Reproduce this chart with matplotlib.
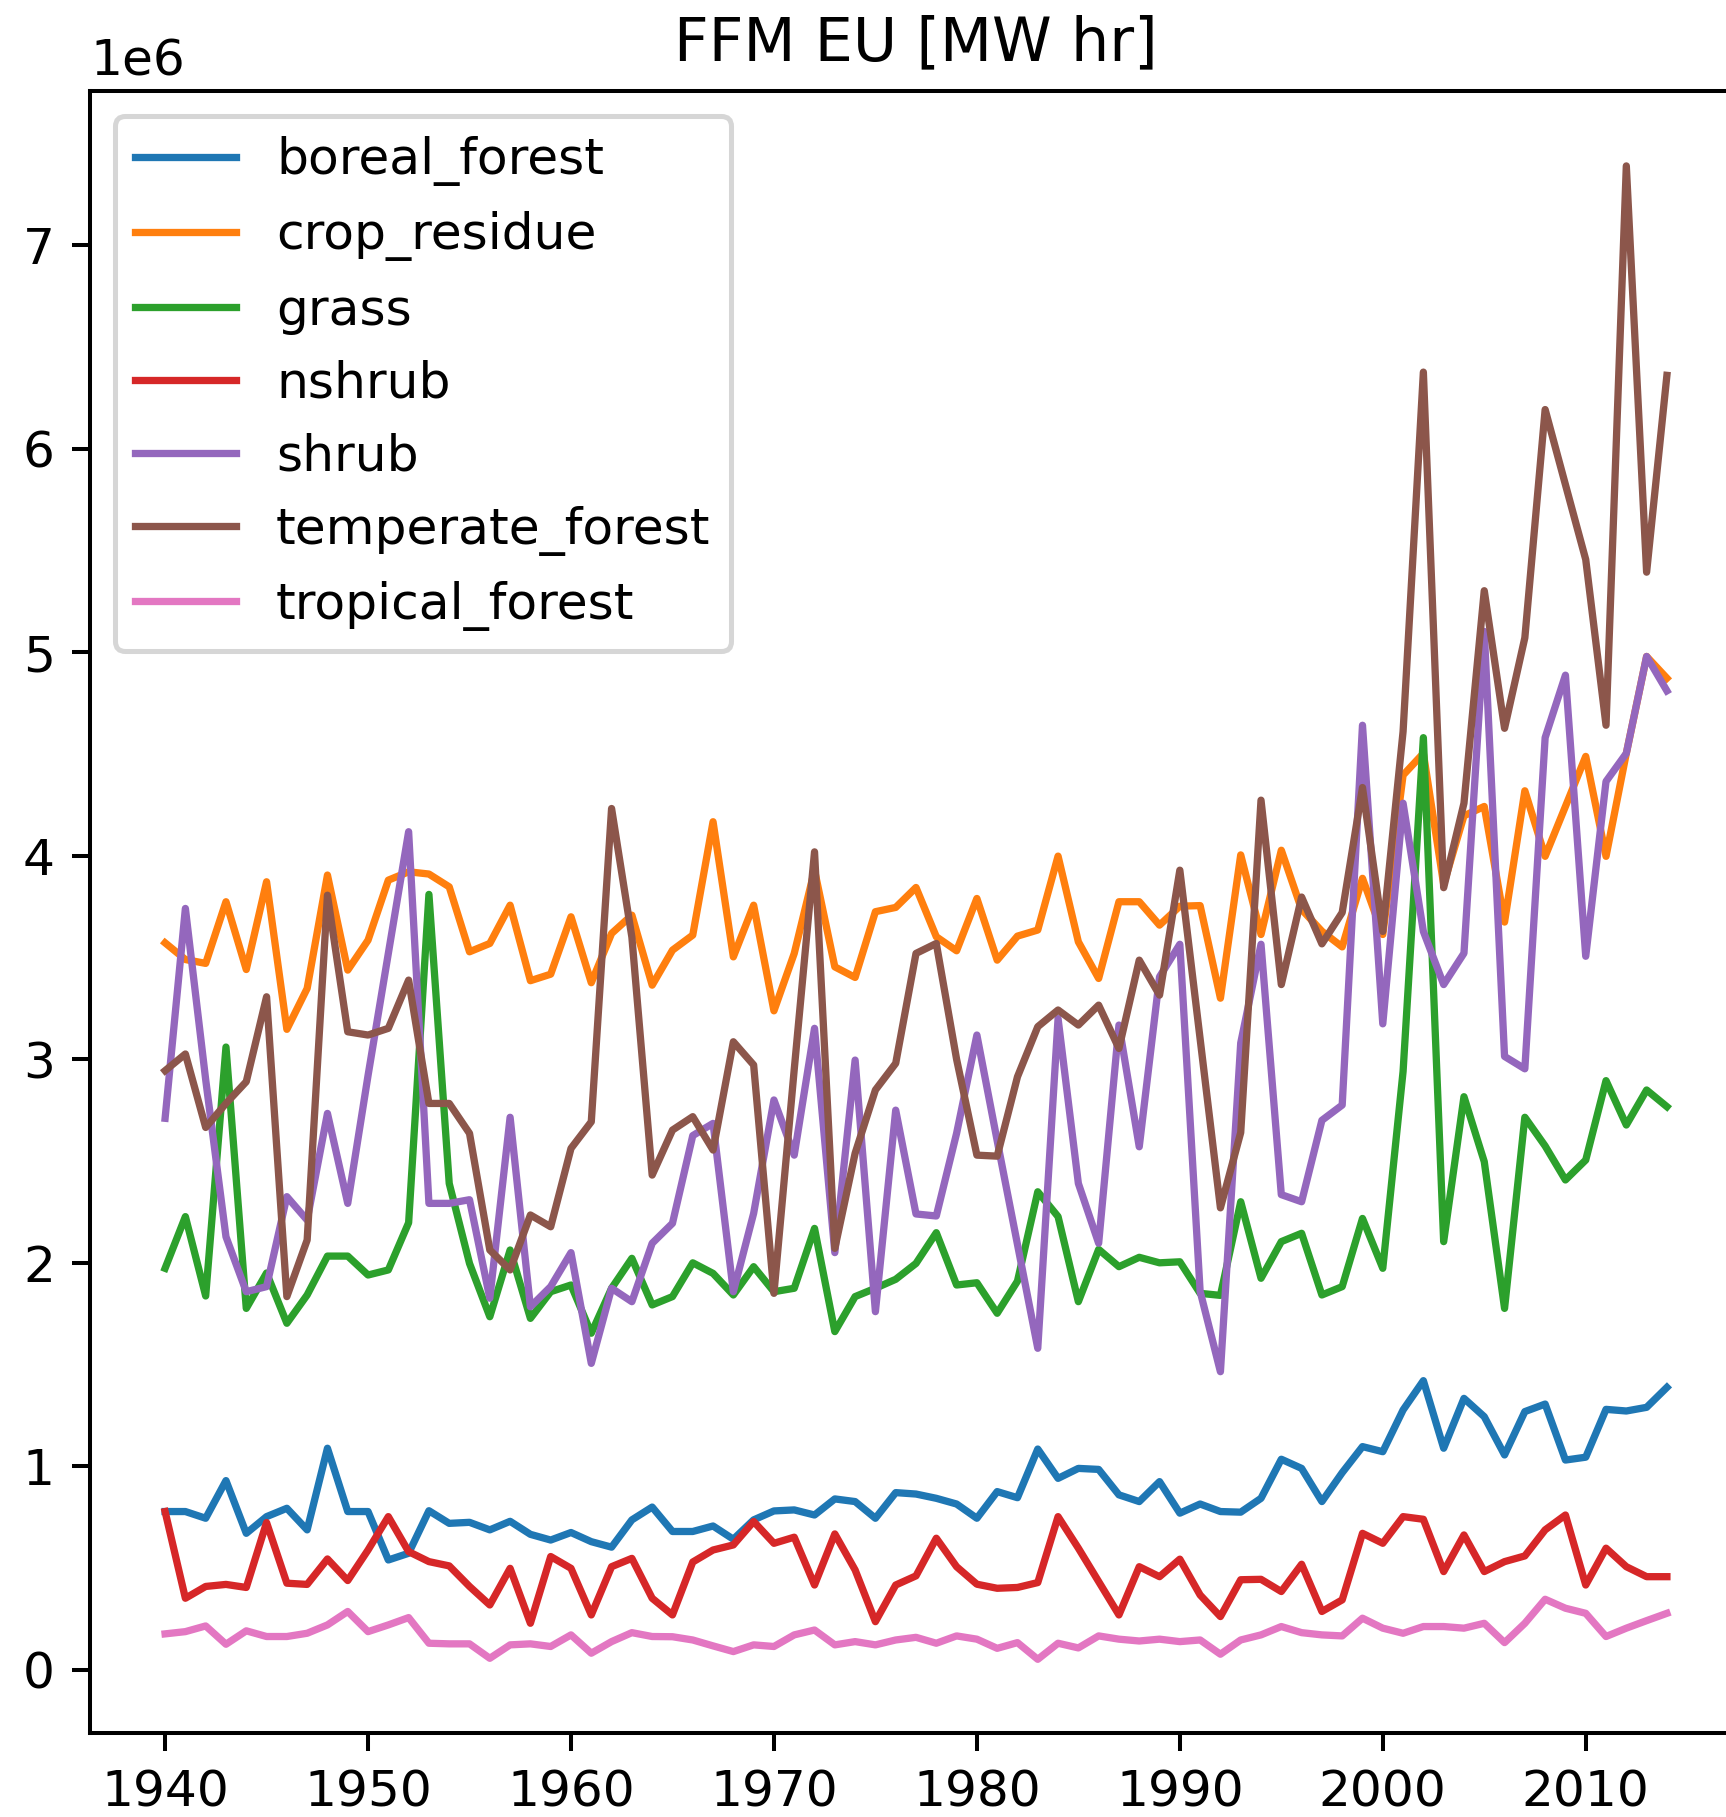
import numpy as np
import matplotlib
matplotlib.use("Agg")
import matplotlib.pyplot as plt

years = np.arange(1940, 2015)

boreal_forest = [
    0.778, 0.778, 0.745, 0.93, 0.671, 0.753, 0.794, 0.688, 1.089, 0.778, 0.778, 0.540, 0.573, 0.782,
    0.72, 0.725, 0.688, 0.73, 0.666, 0.638, 0.675, 0.63, 0.603, 0.737, 0.80, 0.68, 0.68,
    0.707, 0.642, 0.737, 0.781, 0.786, 0.761, 0.84, 0.827, 0.745, 0.871, 0.864, 0.843, 0.815,
    0.745, 0.876, 0.846, 1.085, 0.941, 0.99, 0.985, 0.86, 0.827, 0.925, 0.77, 0.815, 0.778,
    0.775, 0.843, 1.035, 0.99, 0.827, 0.969, 1.097, 1.072, 1.277, 1.421, 1.089, 1.334, 1.244,
    1.056, 1.269, 1.306, 1.031, 1.045, 1.28, 1.272, 1.29, 1.388,
]
crop_residue = [
    3.572, 3.49, 3.471, 3.774, 3.441, 3.872, 3.147, 3.348, 3.905, 3.438, 3.585, 3.88, 3.921, 3.91,
    3.847, 3.528, 3.569, 3.757, 3.386, 3.418, 3.70, 3.376, 3.618, 3.708, 3.364, 3.536, 3.61,
    4.167, 3.503, 3.757, 3.238, 3.52, 3.929, 3.454, 3.402, 3.725, 3.746, 3.844, 3.602, 3.533,
    3.79, 3.487, 3.605, 3.635, 3.998, 3.577, 3.397, 3.774, 3.774, 3.659, 3.752, 3.755, 3.30,
    4.004, 3.613, 4.027, 3.736, 3.629, 3.552, 3.889, 3.613, 4.396, 4.503, 3.859, 4.196, 4.242,
    3.674, 4.319, 3.997, 4.242, 4.488, 3.997, 4.503, 4.979, 4.872,
]
grass = [
    1.973, 2.227, 1.837, 3.06, 1.776, 1.95, 1.703, 1.842, 2.033, 2.033, 1.94, 1.965, 2.197, 3.81,
    2.39, 1.997, 1.735, 2.063, 1.727, 1.858, 1.891, 1.654, 1.875, 2.022, 1.793, 1.834, 2.0,
    1.948, 1.842, 1.981, 1.858, 1.875, 2.169, 1.662, 1.834, 1.875, 1.919, 1.997, 2.148, 1.891,
    1.902, 1.752, 1.91, 2.349, 2.227, 1.809, 2.066, 1.981, 2.027, 2.0, 2.005, 1.85, 1.84,
    2.3, 1.924, 2.104, 2.145, 1.842, 1.883, 2.218, 1.973, 2.94, 4.58, 2.104, 2.816, 2.497,
    1.776, 2.715, 2.574, 2.407, 2.505, 2.895, 2.677, 2.849, 2.767,
]
nshrub = [
    0.778, 0.352, 0.41, 0.42, 0.405, 0.724, 0.426, 0.42, 0.545, 0.439, 0.589, 0.753, 0.581, 0.532,
    0.511, 0.41, 0.319, 0.499, 0.229, 0.557, 0.499, 0.27, 0.507, 0.548, 0.352, 0.27, 0.53,
    0.589, 0.614, 0.729, 0.622, 0.652, 0.417, 0.668, 0.491, 0.237, 0.417, 0.462, 0.647, 0.507,
    0.421, 0.401, 0.405, 0.429, 0.753, 0.598, 0.434, 0.27, 0.507, 0.458, 0.544, 0.368, 0.262,
    0.443, 0.445, 0.385, 0.519, 0.287, 0.344, 0.671, 0.622, 0.753, 0.74, 0.483, 0.663, 0.483,
    0.532, 0.56, 0.688, 0.761, 0.417, 0.598, 0.507, 0.458, 0.458,
]
shrub = [
    2.71, 3.741, 2.9, 2.128, 1.858, 1.883, 2.325, 2.21, 2.734, 2.292, 2.92, 3.52, 4.118, 2.292,
    2.292, 2.31, 1.826, 2.715, 1.784, 1.883, 2.05, 1.506, 1.875, 1.809, 2.096, 2.194, 2.625,
    2.685, 1.858, 2.243, 2.8, 2.529, 3.152, 2.05, 2.996, 1.76, 2.75, 2.24, 2.23, 2.636,
    3.119, 2.6, 2.09, 1.58, 3.2, 2.39, 2.096, 3.168, 2.57, 3.405, 3.565, 1.86, 1.465,
    3.08, 3.565, 2.335, 2.30, 2.70, 2.775, 4.641, 3.174, 4.258, 3.628, 3.367, 3.521, 5.102,
    3.014, 2.953, 4.58, 4.887, 3.506, 4.365, 4.503, 4.979, 4.81,
]
temperate_forest = [
    2.944, 3.026, 2.665, 2.783, 2.89, 3.307, 1.834, 2.112, 3.806, 3.135, 3.119, 3.152, 3.389, 2.783,
    2.783, 2.636, 2.063, 1.965, 2.235, 2.177, 2.562, 2.693, 4.232, 3.6, 2.431, 2.652, 2.718,
    2.554, 3.086, 2.972, 1.85, 2.95, 4.019, 2.071, 2.538, 2.849, 2.98, 3.52, 3.569, 3.0,
    2.529, 2.524, 2.914, 3.16, 3.242, 3.168, 3.266, 3.053, 3.487, 3.315, 3.929, 3.1, 2.27,
    2.64, 4.273, 3.367, 3.797, 3.567, 3.721, 4.335, 3.628, 4.61, 6.376, 3.843, 4.258, 5.302,
    4.626, 5.071, 6.192, 5.823, 5.455, 4.641, 7.389, 5.393, 6.36,
]
tropical_forest = [
    0.177, 0.188, 0.216, 0.126, 0.192, 0.164, 0.164, 0.18, 0.221, 0.287, 0.188, 0.221, 0.257, 0.131,
    0.128, 0.128, 0.057, 0.123, 0.128, 0.115, 0.172, 0.082, 0.139, 0.183, 0.164, 0.163, 0.147,
    0.118, 0.09, 0.123, 0.115, 0.172, 0.196, 0.123, 0.139, 0.123, 0.147, 0.16, 0.131, 0.167,
    0.151, 0.106, 0.134, 0.052, 0.131, 0.108, 0.167, 0.151, 0.142, 0.151, 0.139, 0.147, 0.077,
    0.147, 0.172, 0.213, 0.183, 0.172, 0.167, 0.254, 0.205, 0.18, 0.213, 0.213, 0.205, 0.229,
    0.134, 0.229, 0.347, 0.303, 0.278, 0.164, 0.205, 0.242, 0.278,
]

series = {
    "boreal_forest": boreal_forest,
    "crop_residue": crop_residue,
    "grass": grass,
    "nshrub": nshrub,
    "shrub": shrub,
    "temperate_forest": temperate_forest,
    "tropical_forest": tropical_forest,
}

dpi = 362
W, H = 1727, 1817
fig = plt.figure(figsize=(W / dpi, H / dpi), dpi=dpi)
# axes run slightly past the right edge of the canvas
ax = fig.add_axes([90 / W, (H - 1733) / H, (1742 - 90) / W, (1733 - 91) / H])

for name, vals in series.items():
    ax.plot(years, np.array(vals) * 1e6, label=name, linewidth=1.45)

ax.set_xlim(1936.3, 2017.7)
ax.set_ylim(-0.31e6, 7.757e6)
ax.set_title("FFM EU [MW hr]")
ax.legend(loc="upper left")

fig.savefig("out.png", dpi=dpi)
